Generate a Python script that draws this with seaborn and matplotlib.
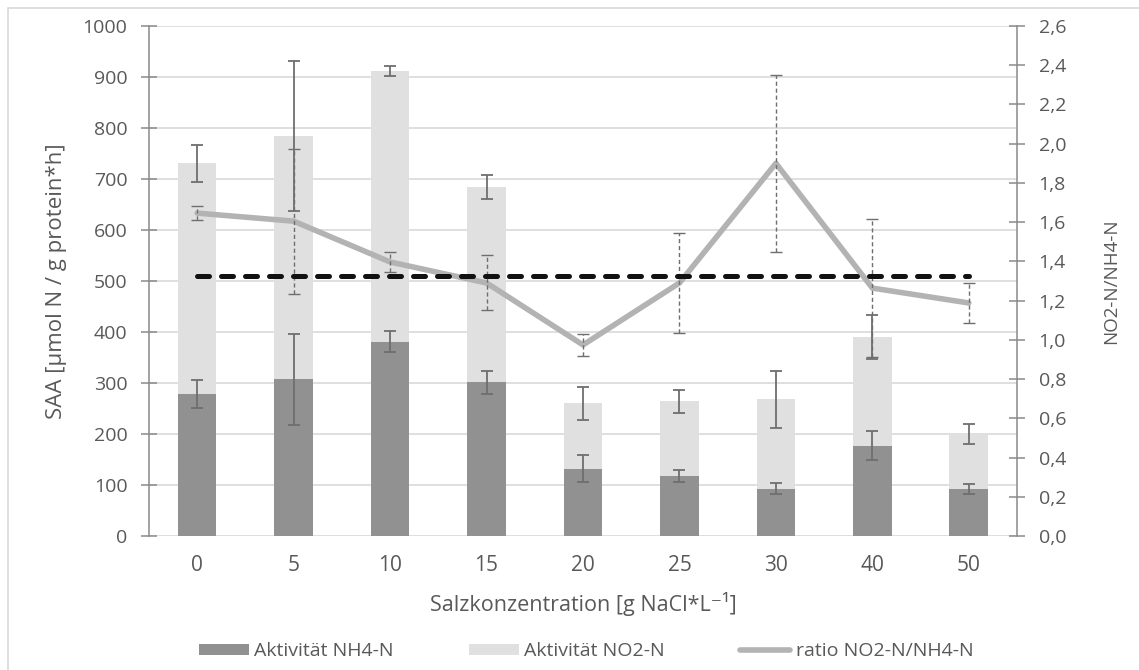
import numpy as np
import pandas as pd
import matplotlib
matplotlib.use("Agg")
import matplotlib.pyplot as plt
from matplotlib.patches import Patch, Rectangle
from matplotlib.lines import Line2D
import seaborn as sns

# ---------------- data ----------------
conc = ["0", "5", "10", "15", "20", "25", "30", "40", "50"]
nh4 = [278, 307, 381, 301, 132, 117, 93, 177, 92]
nh4_err = [27, 89, 20, 22, 26, 12, 10, 28, 10]
no2 = [453, 477, 531, 383, 128, 147, 175, 213, 108]
total_err = [36, 147, 10, 24, 32, 22, 56, 43, 20]
ratio = [1.646, 1.605, 1.397, 1.29, 0.974, 1.29, 1.90, 1.264, 1.188]
ratio_err = [0.035, 0.37, 0.053, 0.14, 0.058, 0.255, 0.45, 0.35, 0.10]
ref_ratio = 1.325

left_ticks = list(range(0, 1001, 100))
right_ticks = [0.0, 0.2, 0.4, 0.6, 0.8, 1.0, 1.2, 1.4, 1.6, 1.8, 2.0, 2.2, 2.4, 2.6]
right_labels = [f"{v:.1f}".replace(".", ",") for v in right_ticks]

# ---------------- style ----------------
sns.set_theme(style="white")
plt.rcParams["font.family"] = ["Open Sans", "DejaVu Sans"]

TXT = "#595959"
DARK = "#919191"
LIGHT = "#e0e0e0"
LINE = "#b3b3b3"
ERR = "#6e6e6e"
SPINE = "#8a8a8a"
GRID = "#d9d9d9"

df = pd.DataFrame({"conc": conc, "nh4": nh4, "no2": no2})
df["total"] = df["nh4"] + df["no2"]
pos = np.arange(len(conc))

fig = plt.figure(figsize=(11.39, 6.70), dpi=100)
ax = fig.add_axes([0.1308, 0.2, 0.7621, 0.7612])

sns.barplot(data=df, x="conc", y="total", color=LIGHT, saturation=1,
            width=0.4, linewidth=0, ax=ax, zorder=2)
sns.barplot(data=df, x="conc", y="nh4", color=DARK, saturation=1,
            width=0.4, linewidth=0, ax=ax, zorder=2)

ax.errorbar(pos, df["total"], yerr=total_err, fmt="none", ecolor=ERR,
            elinewidth=1.3, capsize=4.5, capthick=1.3, zorder=4)
ax.errorbar(pos, df["nh4"], yerr=nh4_err, fmt="none", ecolor=ERR,
            elinewidth=1.3, capsize=4.5, capthick=1.3, zorder=4)

ax.set_xlim(-0.5, len(conc) - 0.5)
ax.set_ylim(0, 1000)
ax.set_yticks(left_ticks)
ax.yaxis.grid(True, color=GRID, linewidth=1.2, zorder=0)
ax.set_axisbelow(True)
for s in ["top", "right", "bottom"]:
    ax.spines[s].set_visible(False)
ax.spines["left"].set_color(SPINE)
ax.spines["left"].set_linewidth(1.1)
ax.tick_params(axis="y", direction="inout", length=11, width=1.1, color=SPINE,
               labelsize=14, labelcolor=TXT, pad=10, left=True)
ax.tick_params(axis="x", length=0, labelsize=15, labelcolor=TXT, pad=14)
ax.set_xlabel("Salzkonzentration [g NaCl*L⁻¹]", fontsize=15.5, color=TXT, labelpad=11)
ax.set_ylabel("SAA [µmol N / g protein*h]", fontsize=16, color=TXT, labelpad=11)

ax2 = ax.twinx()
sns.lineplot(x=pos, y=ratio, ax=ax2, color=LINE, linewidth=4.0, zorder=3,
             solid_joinstyle="round", solid_capstyle="round")
eb = ax2.errorbar(pos, ratio, yerr=ratio_err, fmt="none", ecolor=ERR,
                  elinewidth=1.0, capsize=4, capthick=1.0, zorder=4)
for c in eb[2]:
    c.set_linestyle((0, (3, 2)))
sns.lineplot(x=[pos[0], pos[-1]], y=[ref_ratio, ref_ratio], ax=ax2, color="#111111",
             linewidth=3.6, zorder=5, dashes=False)
ax2.lines[-1].set_dashes((2.4, 2.4))
ax2.lines[-1].set_dash_capstyle("round")
ax2.set_ylim(0, 2.6)
ax2.set_yticks(right_ticks)
ax2.set_yticklabels(right_labels)
ax2.set_xlim(-0.5, len(conc) - 0.5)
for s in ["top", "left", "bottom"]:
    ax2.spines[s].set_visible(False)
ax2.spines["right"].set_color(SPINE)
ax2.spines["right"].set_linewidth(1.1)
ax2.tick_params(axis="y", direction="inout", length=11, width=1.1, color=SPINE,
                labelsize=14, labelcolor=TXT, pad=10, right=True)
ax2.set_ylabel("NO2-N/NH4-N", fontsize=13.5, color=TXT, labelpad=26)
ax2.grid(False)

handles = [Patch(facecolor=DARK, edgecolor="none"),
           Patch(facecolor=LIGHT, edgecolor="none"),
           Line2D([0], [0], color=LINE, linewidth=4.0, solid_capstyle="round")]
labels = ["Aktivität NH4-N", "Aktivität NO2-N", "ratio NO2-N/NH4-N"]
fig.legend(handles, labels, loc="center", bbox_to_anchor=(0.5145, 0.028), ncol=3,
           frameon=False, fontsize=14, handlelength=2.6, handleheight=0.52,
           handletextpad=0.26, columnspacing=3.85, labelcolor=TXT)

fig.add_artist(Rectangle((8 / 1139, -0.1), 1.2, 1.1 - 8 / 670,
                         transform=fig.transFigure, fill=False,
                         edgecolor=GRID, linewidth=1.2))

fig.savefig("out.png", dpi=100)
